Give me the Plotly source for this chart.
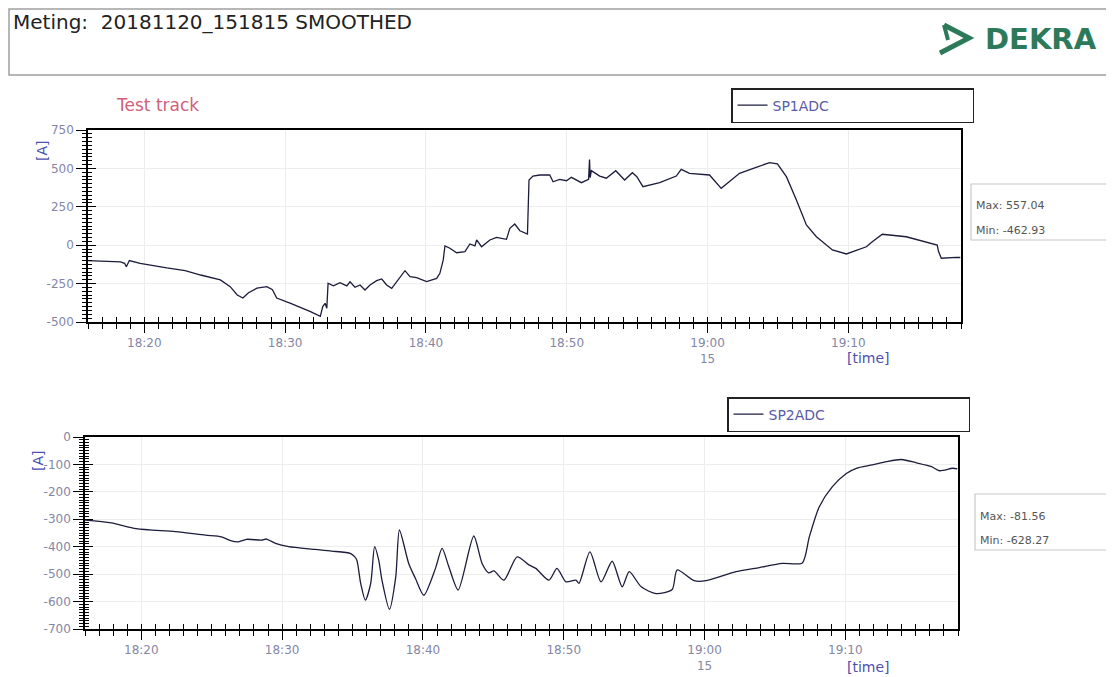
import pandas as pd
import plotly.graph_objects as go

# page body adds an 8px margin, so the figure is drawn 8px smaller and coordinates are shifted
OFF = 8
W, H = 1114 - OFF, 677 - OFF

# ---------------- data (minutes after 18:00, value in A) ----------------
sp1_min = [16.0, 17.2, 18.3, 18.6, 18.72, 18.94, 19.7, 21.6, 22.9, 24.0, 25.4, 26.1, 26.6, 27.0, 27.4,
           28.0, 28.7, 29.1, 29.4, 30.35, 31.1, 31.8, 32.5, 32.67, 32.84, 32.96, 33.05, 33.43, 33.9,
           34.38, 34.61, 34.96, 35.32, 35.67, 36.03, 36.5, 36.86, 37.21, 37.57, 38.04, 38.51, 38.87,
           39.34, 40.05, 40.76, 40.99, 41.23, 41.35, 41.7, 42.18, 42.77, 43.12, 43.48, 43.6, 43.95,
           44.54, 45.01, 45.72, 45.96, 46.31, 46.67, 47.21, 47.25, 47.32, 47.6, 48.09, 48.79, 49.03,
           49.5, 49.98, 50.33, 51.04, 51.55, 51.62, 51.66, 51.75, 52.34, 52.81, 53.48, 54.11, 54.66,
           54.98, 55.41, 56.6, 57.78, 58.13, 58.72, 60.14, 60.97, 61.79, 62.27, 63.45, 64.4, 64.96,
           65.6, 66.31, 67.02, 67.73, 68.87, 69.86, 71.28, 71.7, 72.41, 74.11, 75.53, 76.31, 76.4,
           76.6, 77.66, 77.95]
sp1_val = [-100, -103, -108, -118, -140, -100, -118, -148, -165, -194, -226, -270, -324, -344, -309,
           -280, -270, -290, -344, -377, -404, -432, -463, -400, -378, -411, -248, -265, -244,
           -265, -238, -274, -259, -292, -259, -231, -220, -259, -281, -226, -166, -205,
           -211, -237, -216, -183, -96, -5, -20, -49, -42, 8, -5, 34, -10,
           34, 51, 38, 110, 138, 94, 73, 225, 424, 450, 457, 457, 413,
           429, 420, 442, 407, 429, 557, 440, 485, 450, 436, 485, 424, 472,
           446, 381, 407, 450, 494, 468, 457, 370, 429, 468, 507, 537, 529,
           446, 294, 132, 55, -31, -57, -10, 23, 71, 55, 23, 1, -40,
           -85, -79, -80]

sp2_min = [16.0, 17.87, 19.64, 22.42, 24.55, 25.69, 26.4, 26.9, 27.47, 28.53, 28.89, 29.53, 30.46,
           32.38, 33.52, 34.87, 35.16, 35.31, 35.58, 35.91, 36.29, 36.57, 36.86, 37.09, 37.62, 38.07,
           38.33, 38.99, 39.47, 40.06, 40.89, 41.36, 41.84, 42.5, 43.61, 44.2, 44.68, 45.04, 45.75,
           46.69, 47.52, 48.02, 48.95, 49.52, 50.16, 50.87, 51.08, 51.86, 52.65, 53.44, 54.15, 54.65,
           55.5, 56.56, 57.7, 58.05, 59.26, 60.11, 62.25, 63.89, 65.52, 66.94, 67.44, 68.15, 69.08,
           70.07, 70.78, 71.92, 72.92, 73.98, 75.05, 76.12, 76.69, 77.61, 77.95]
sp2_val = [-303, -313, -334, -345, -358, -364, -379, -382, -373, -376, -372, -388, -400,
           -410, -416, -425, -437, -449, -534, -595, -534, -400, -449, -522, -628, -510,
           -339, -461, -516, -577, -479, -406, -473, -558, -361, -461, -495, -488, -522,
           -437, -466, -479, -522, -479, -528, -522, -534, -419, -528, -453, -546, -491,
           -546, -571, -556, -485, -524, -524, -491, -476, -461, -459, -364, -254, -181,
           -133, -114, -102, -90, -82, -94, -108, -123, -114, -116]

x_tick_min = [20, 30, 40, 50, 60, 70]
x_tick_text = ["18:20", "18:30", "18:40", "18:50", "19:00<br>15", "19:10"]
y1_ticks = [750, 500, 250, 0, -250, -500]
y2_ticks = [0, -100, -200, -300, -400, -500, -600, -700]
stats1 = ["Max: 557.04", "Min: -462.93"]
stats2 = ["Max: -81.56", "Min: -628.27"]

base = pd.Timestamp("2018-11-20 18:00:00")
def to_t(mins):
    return [base + pd.Timedelta(minutes=m) for m in mins]

x_range = [base + pd.Timedelta(minutes=16), base + pd.Timedelta(minutes=78)]

def px(x):
    return (x - OFF) / W
def py(y):
    return 1 - (y - OFF) / H

LINE = "#1c1c3c"
TICKC = "#8486a6"
BLUE = "#4d4fae"
FONT = "DejaVu Sans, Arial, sans-serif"

fig = go.Figure()
fig.add_trace(go.Scatter(x=to_t(sp1_min), y=sp1_val, mode="lines", name="SP1ADC",
                         line=dict(color=LINE, width=1.3), xaxis="x", yaxis="y", legend="legend"))
fig.add_trace(go.Scatter(x=to_t(sp2_min), y=sp2_val, mode="lines", name="SP2ADC",
                         line=dict(color=LINE, width=1.3, shape="spline", smoothing=0.7),
                         xaxis="x2", yaxis="y2", legend="legend2"))
# empty helper traces for overlaying tick axes
for xa, ya in [("x3", "y"), ("x", "y3"), ("x4", "y2"), ("x2", "y4")]:
    fig.add_trace(go.Scatter(x=[], y=[], xaxis=xa, yaxis=ya, showlegend=False, hoverinfo="skip"))

tickvals_t = to_t(x_tick_min)
grid = "#ededed"

def xmain(domain, anchor):
    return dict(domain=domain, anchor=anchor, type="date", range=x_range,
                tickvals=tickvals_t, ticktext=x_tick_text, ticks="outside", ticklen=9, tickwidth=1.2,
                tickcolor="black", showline=True, linecolor="black", linewidth=1.5, mirror=True,
                showgrid=True, gridcolor=grid, gridwidth=1, zeroline=False,
                tickfont=dict(family=FONT, size=12, color=TICKC),
                minor=dict(dtick=60000, tick0=base, ticks="outside", ticklen=5, tickcolor="black",
                           tickwidth=1, showgrid=False),
                automargin=False, fixedrange=True)

def xover(over, anchor):
    return dict(overlaying=over, anchor=anchor, type="date", range=x_range, side="bottom",
                tickvals=tickvals_t, ticktext=["" for _ in x_tick_min], ticks="inside", ticklen=7,
                tickwidth=1.2, tickcolor="black", showline=False, showgrid=False, zeroline=False,
                showticklabels=False,
                minor=dict(dtick=60000, tick0=base, ticks="inside", ticklen=5, tickcolor="black",
                           tickwidth=1, showgrid=False),
                automargin=False, fixedrange=True)

def ymain(domain, anchor, rng, tv, mdt):
    return dict(domain=domain, anchor=anchor, range=rng, tickvals=tv, ticktext=[str(v) for v in tv],
                ticks="outside", ticklen=10, tickwidth=1.2, tickcolor="black",
                showline=True, linecolor="black", linewidth=1.5, mirror=True,
                showgrid=True, gridcolor=grid, gridwidth=1, zeroline=False,
                tickfont=dict(family=FONT, size=12, color=TICKC),
                minor=dict(dtick=mdt, ticks="outside", ticklen=4, tickcolor="black", tickwidth=1,
                           showgrid=False),
                automargin=False, fixedrange=True)

def yover(over, anchor, rng, tv, mdt):
    return dict(overlaying=over, anchor=anchor, side="left", range=rng, tickvals=tv,
                ticks="inside", ticklen=8, tickwidth=1.2, tickcolor="black", showline=False,
                showgrid=False, zeroline=False, showticklabels=False,
                minor=dict(dtick=mdt, ticks="inside", ticklen=4, tickcolor="black", tickwidth=1,
                           showgrid=False),
                automargin=False, fixedrange=True)

dom_x1 = [px(88), px(961)]
dom_y1 = [py(322), py(130)]
dom_x2 = [px(85), px(958)]
dom_y2 = [py(629), py(437)]

legend_common = dict(xanchor="left", yanchor="top", bgcolor="white", bordercolor="#222",
                     borderwidth=1.5, font=dict(family=FONT, size=14, color="#5a5aa8"),
                     orientation="h", entrywidth=195, entrywidthmode="pixels", itemwidth=30)

fig.update_layout(
    width=W, height=H, margin=dict(l=0, r=0, t=0, b=0),
    paper_bgcolor="white", plot_bgcolor="white",
    font=dict(family=FONT),
    xaxis=xmain(dom_x1, "y"),
    yaxis=ymain(dom_y1, "x", [-500, 750], y1_ticks, 25),
    xaxis2=xmain(dom_x2, "y2"),
    yaxis2=ymain(dom_y2, "x2", [-700, 0], y2_ticks, 10),
    xaxis3=xover("x", "y"),
    yaxis3=yover("y", "x", [-500, 750], y1_ticks, 25),
    xaxis4=xover("x2", "y2"),
    yaxis4=yover("y2", "x2", [-700, 0], y2_ticks, 10),
    legend=dict(x=px(731), y=py(88), **legend_common),
    legend2=dict(x=px(727), y=py(397), **legend_common),
    showlegend=True,
)

shapes = []
annotations = []
# header box
shapes.append(dict(type="rect", xref="paper", yref="paper", x0=px(9), x1=px(1125), y0=py(75), y1=py(9),
                   line=dict(color="#a0a0a0", width=1.5), fillcolor="rgba(0,0,0,0)", layer="below"))
annotations.append(dict(xref="paper", yref="paper", x=px(11), y=py(22), xanchor="left", yanchor="middle",
                        text="Meting:  20181120_151815 SMOOTHED", showarrow=False,
                        font=dict(family=FONT, size=20, color="#222222")))
# DEKRA logo
GREEN = "#2d7a5b"
shapes.append(dict(type="path", xref="paper", yref="paper",
                   path=f"M {px(944)},{py(25)} L {px(969)},{py(38)} L {px(940)},{py(53)}",
                   line=dict(color=GREEN, width=5)))
shapes.append(dict(type="path", xref="paper", yref="paper",
                   path=f"M {px(944)},{py(25)} L {px(948)},{py(40)}",
                   line=dict(color=GREEN, width=4)))
annotations.append(dict(xref="paper", yref="paper", x=px(983), y=py(39), xanchor="left", yanchor="middle",
                        text="<b>DEKRA</b>", showarrow=False,
                        font=dict(family=FONT, size=29, color=GREEN)))
# Test track
annotations.append(dict(xref="paper", yref="paper", x=px(114), y=py(105), xanchor="left", yanchor="middle",
                        text="Test track", showarrow=False,
                        font=dict(family=FONT, size=17, color="#d0607a")))
# [A] labels
annotations.append(dict(xref="paper", yref="paper", x=px(42), y=py(151), xanchor="center", yanchor="middle",
                        text="[A]", textangle=-90, showarrow=False,
                        font=dict(family=FONT, size=14, color=BLUE)))
annotations.append(dict(xref="paper", yref="paper", x=px(38), y=py(461), xanchor="center", yanchor="middle",
                        text="[A]", textangle=-90, showarrow=False,
                        font=dict(family=FONT, size=14, color=BLUE)))
# [time] labels
annotations.append(dict(xref="paper", yref="paper", x=px(868), y=py(358), xanchor="center", yanchor="middle",
                        text="[time]", showarrow=False, font=dict(family=FONT, size=14, color=BLUE)))
annotations.append(dict(xref="paper", yref="paper", x=px(868), y=py(667), xanchor="center", yanchor="middle",
                        text="[time]", showarrow=False, font=dict(family=FONT, size=14, color=BLUE)))
# stats boxes
for (y0, y1, ya, yb, st, x0) in [(184, 240, 206, 230, stats1, 971), (494, 550, 516, 540, stats2, 975)]:
    shapes.append(dict(type="rect", xref="paper", yref="paper", x0=px(x0), x1=px(1125), y0=py(y1), y1=py(y0),
                       line=dict(color="#c8c8c8", width=1.2), fillcolor="white"))
    annotations.append(dict(xref="paper", yref="paper", x=px(x0 + 3), y=py(ya), xanchor="left", yanchor="middle",
                            text=st[0], showarrow=False, font=dict(family=FONT, size=11, color="#555555")))
    annotations.append(dict(xref="paper", yref="paper", x=px(x0 + 3), y=py(yb), xanchor="left", yanchor="middle",
                            text=st[1], showarrow=False, font=dict(family=FONT, size=11, color="#555555")))

fig.update_layout(shapes=shapes, annotations=annotations)
fig.write_html("out.html")
